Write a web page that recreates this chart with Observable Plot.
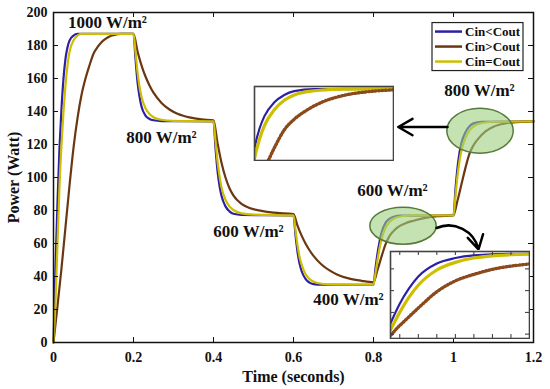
<!DOCTYPE html>
<html><head><meta charset="utf-8">
<script src="https://cdn.jsdelivr.net/npm/d3@7"></script>
<script src="https://cdn.jsdelivr.net/npm/@observablehq/plot@0.6"></script>
<style>
html,body{margin:0;padding:0;background:#fff;}
#wrap{position:relative;width:550px;height:389px;overflow:hidden;}
#wrap svg{position:absolute;left:0;top:0;}
</style></head><body><div id="wrap"></div>
<script>
// ---- data ----
const xTicks = [0, 0.2, 0.4, 0.6, 0.8, 1, 1.2];
const yTicks = [0, 20, 40, 60, 80, 100, 120, 140, 160, 180, 200];
const seriesNames = ["Cin<Cout", "Cin>Cout", "Cin=Cout"];
const seriesColors = ["#2c20a6", "#6b3712", "#cdbf00"];

// [time (s), power (W)]
const cinLtCout = [
  [0,0],[0.005,45],[0.01,85],[0.015,118],[0.02,142],[0.025,160],[0.03,172],[0.035,179],[0.04,183],[0.05,186],[0.06,187],[0.2,187],
  [0.205,172],[0.21,158],[0.215,149],[0.22,143],[0.23,137.5],[0.24,135.5],[0.25,134.7],[0.27,134.2],[0.4,134],
  [0.405,118],[0.41,104],[0.415,95],[0.42,89],[0.43,82.5],[0.44,79.5],[0.45,78],[0.47,77.3],[0.6,77],
  [0.605,65],[0.61,55],[0.615,48],[0.62,43.5],[0.63,38.5],[0.64,36.3],[0.65,35.4],[0.67,35],[0.8,35],
  [0.805,45],[0.81,54],[0.815,61],[0.82,66.5],[0.83,72.5],[0.84,75],[0.85,76.2],[0.87,76.9],[1.0,77],
  [1.005,93],[1.01,106],[1.015,115],[1.02,121],[1.03,127.5],[1.04,131],[1.05,132.8],[1.07,133.8],[1.2,134]
];
const cinGtCout = [
  [0,0],[0.01,22],[0.02,45],[0.03,70],[0.04,95],[0.05,118],[0.06,136],[0.07,150],[0.08,160],[0.09,168],[0.1,175],[0.11,179],[0.12,182],[0.13,184],[0.14,185.5],[0.15,186.3],[0.17,187],[0.2,187],
  [0.21,176.5],[0.22,168],[0.23,161.2],[0.24,155.8],[0.25,151.4],[0.27,145.2],[0.29,141.2],[0.31,138.6],[0.34,136.4],[0.37,135.2],[0.4,134.6],
  [0.41,121],[0.42,109],[0.43,100],[0.44,93.5],[0.45,89],[0.47,84],[0.49,81.5],[0.52,79.8],[0.55,78.7],[0.6,77.8],
  [0.61,70.8],[0.62,64.9],[0.63,60],[0.64,55.9],[0.65,52.5],[0.67,47.3],[0.69,43.7],[0.71,41.1],[0.74,38.7],[0.77,37.4],[0.8,36.6],
  [0.81,44],[0.82,52],[0.83,59.5],[0.84,64.5],[0.85,67.5],[0.86,69.8],[0.88,72.3],[0.9,73.8],[0.93,75.5],[0.96,76.5],[1.0,77.2],
  [1.01,86],[1.02,96],[1.03,106],[1.04,114.5],[1.05,119.5],[1.06,123],[1.08,128],[1.1,130.8],[1.13,132.8],[1.16,133.6],[1.2,134]
];
const cinEqCout = [
  [0,0],[0.005,25],[0.01,60],[0.015,95],[0.02,120],[0.025,140],[0.03,156],[0.035,168],[0.04,176],[0.05,183],[0.06,186],[0.07,187],[0.2,187],
  [0.205,176],[0.21,164],[0.215,155],[0.22,149],[0.23,142],[0.24,138.5],[0.25,136.5],[0.27,135],[0.3,134.3],[0.4,134],
  [0.405,122],[0.41,110],[0.415,101],[0.42,94],[0.43,86.5],[0.44,82.5],[0.45,80.3],[0.47,78.3],[0.5,77.5],[0.6,77],
  [0.605,68],[0.61,59],[0.615,52],[0.62,47.5],[0.63,41.5],[0.64,38.5],[0.65,37],[0.67,35.6],[0.7,35.2],[0.8,35],
  [0.805,42],[0.81,50],[0.815,57],[0.82,62.5],[0.83,69.5],[0.84,73],[0.85,75],[0.87,76.5],[0.9,77],[1.0,77],
  [1.005,89],[1.01,101],[1.015,110],[1.02,116.5],[1.03,124],[1.04,128.5],[1.05,131],[1.07,133],[1.1,133.8],[1.2,134]
];

// annotations (in data units)
const irradianceLabels = [
  {t: 0.135, p: 194, label: "1000 W/m²"},
  {t: 0.27, p: 124.5, label: "800 W/m²"},
  {t: 0.4875, p: 67, label: "600 W/m²"},
  {t: 0.7375, p: 25.8, label: "400 W/m²"},
  {t: 0.8475, p: 91.8, label: "600 W/m²"},
  {t: 1.065, p: 152.4, label: "800 W/m²"}
];
const zoomEllipses = [
  {t: 0.875, p: 70.5, rt: 0.083, rp: 11.2},
  {t: 1.0675, p: 128, rt: 0.083, rp: 13.6}
];
const straightArrow = [{t1: 0.985, p1: 130.6, t2: 0.862, p2: 130.6}];
const bentArrow = [{t1: 0.9575, p1: 69.4, t2: 1.0625, p2: 56.5}];
const legendCorner = {t: 0.9475, p: 193.6};
const insets = [
  {t1: 0.5, t2: 0.8525, pTop: 156, pBottom: 109.4, xDomain: [1.01, 1.15], yDomain: [100, 135], ticks: false},
  {t1: 0.84, t2: 1.1925, pTop: 55.5, pBottom: 2.1, xDomain: [0.805, 0.88], yDomain: [38, 78], ticks: true}
];

// ---- build ----
const font = "'Liberation Serif', 'Times New Roman', serif";
const rows = (arr) => arr.map(([t, p]) => ({t, p}));
const seriesData = [rows(cinLtCout), rows(cinGtCout), rows(cinEqCout)];
const drawOrder = [0, 1, 2];

function ellipseMark(index, scales) {
  const g = d3.create("svg:g");
  for (const e of zoomEllipses) {
    const cx = scales.x(e.t), cy = scales.y(e.p);
    const rx = Math.abs(scales.x(e.t + e.rt) - cx), ry = Math.abs(scales.y(e.p + e.rp) - cy);
    g.append("ellipse").attr("cx", cx).attr("cy", cy).attr("rx", rx).attr("ry", ry)
      .attr("fill", "#9fcf80").attr("fill-opacity", 0.6)
      .attr("stroke", "#557a3a").attr("stroke-width", 1.5);
  }
  return g.node();
}
function legendMark(index, scales) {
  const x0 = scales.x(legendCorner.t), y0 = scales.y(legendCorner.p);
  const g = d3.create("svg:g");
  g.append("rect").attr("x", x0).attr("y", y0).attr("width", 91).attr("height", 48)
    .attr("fill", "white").attr("stroke", "#222").attr("stroke-width", 1.2);
  seriesNames.forEach((n, i) => {
    const y = y0 + 9 + i * 15;
    g.append("line").attr("x1", x0 + 3).attr("x2", x0 + 30).attr("y1", y).attr("y2", y)
      .attr("stroke", seriesColors[i]).attr("stroke-width", 2.5);
    g.append("text").attr("x", x0 + 33).attr("y", y).attr("dy", "0.35em")
      .attr("text-anchor", "start")
      .style("font-size", "13px").style("font-weight", "bold").style("font-family", font)
      .attr("fill", "#111").text(n);
  });
  return g.node();
}

const W = 550, H = 389, mL = 53, mR = 17, mT = 12, mB = 47;
const pw = W - mL - mR, ph = H - mT - mB;

const main = Plot.plot({
  width: W, height: H, marginLeft: mL, marginRight: mR, marginTop: mT, marginBottom: mB,
  style: {fontFamily: font, fontWeight: "bold", fontSize: "14px", color: "#111", background: "white"},
  x: {domain: [0, 1.2]},
  y: {domain: [0, 200]},
  marks: [
    ...drawOrder.map(i => Plot.line(seriesData[i], {x: "t", y: "p", stroke: seriesColors[i], strokeWidth: 2.2, curve: "monotone-x"})),
    ellipseMark,
    Plot.arrow(straightArrow, {x1: "t1", y1: "p1", x2: "t2", y2: "p2", stroke: "black", strokeWidth: 2.5, headLength: 10}),
    Plot.arrow(bentArrow, {x1: "t1", y1: "p1", x2: "t2", y2: "p2", stroke: "black", strokeWidth: 2.5, headLength: 10, bend: 50}),
    Plot.text(irradianceLabels, {x: "t", y: "p", text: "label", fontSize: 17, fill: "#111"}),
    legendMark,
    Plot.tickX(xTicks, {x: d => d, insetTop: ph - 5, stroke: "#111"}),
    Plot.tickX(xTicks, {x: d => d, insetBottom: ph - 5, stroke: "#111"}),
    Plot.tickY(yTicks, {y: d => d, insetRight: pw - 5, stroke: "#111"}),
    Plot.tickY(yTicks, {y: d => d, insetLeft: pw - 5, stroke: "#111"}),
    Plot.frame({stroke: "#111", strokeWidth: 1.5}),
    Plot.axisX(xTicks, {tickSize: 0, tickPadding: 10, tickFormat: d => String(d), label: null}),
    Plot.axisY(yTicks, {tickSize: 0, tickPadding: 6, tickFormat: d => String(d), label: null}),
    Plot.text(["Power (Watt)"], {text: d => d, frameAnchor: "left", dx: -40, rotate: -90, textAnchor: "middle", lineAnchor: "middle", fontSize: 16}),
    Plot.text(["Time (seconds)"], {text: d => d, frameAnchor: "bottom", dy: 34, textAnchor: "middle", lineAnchor: "middle", fontSize: 16})
  ]
});
const wrap = document.getElementById("wrap");
wrap.append(main);

const sx = main.scale("x"), sy = main.scale("y");
for (const ins of insets) {
  const x0 = Math.round(sx.apply(ins.t1)), x1 = Math.round(sx.apply(ins.t2));
  const y0 = Math.round(sy.apply(ins.pTop)), y1 = Math.round(sy.apply(ins.pBottom));
  const w = x1 - x0, h = y1 - y0, m = 1;
  const marks = [
    Plot.frame({fill: "white"}),
    ...drawOrder.map(i => Plot.line(seriesData[i], {x: "t", y: "p", stroke: seriesColors[i], strokeWidth: i === 2 ? 3.2 : 2.2, curve: "monotone-x", clip: true})),
    Plot.line(seriesData[1], {x: "t", y: "p", stroke: "#8a4a1c", strokeWidth: 3.4, strokeDasharray: "0.8,2.6", strokeLinecap: "round", curve: "monotone-x", clip: true})
  ];
  if (ins.ticks) {
    const xt = d3.ticks(ins.xDomain[0], ins.xDomain[1], 6);
    const yt = d3.ticks(ins.yDomain[0], ins.yDomain[1], 4);
    marks.push(
      Plot.tickX(xt, {x: d => d, insetBottom: h - 2 * m - 4, stroke: "#333"}),
      Plot.tickX(xt, {x: d => d, insetTop: h - 2 * m - 4, stroke: "#333"}),
      Plot.tickY(yt, {y: d => d, insetRight: w - 2 * m - 4, stroke: "#333"}),
      Plot.tickY(yt, {y: d => d, insetLeft: w - 2 * m - 4, stroke: "#333"})
    );
  }
  marks.push(Plot.frame({stroke: "#444", strokeWidth: 1.6}));
  const svg = Plot.plot({
    width: w, height: h, margin: m,
    x: {domain: ins.xDomain, axis: null},
    y: {domain: ins.yDomain, axis: null},
    style: {background: "white", overflow: "hidden"},
    marks
  });
  svg.style.left = x0 + "px";
  svg.style.top = y0 + "px";
  wrap.append(svg);
}
</script>
</body></html>
